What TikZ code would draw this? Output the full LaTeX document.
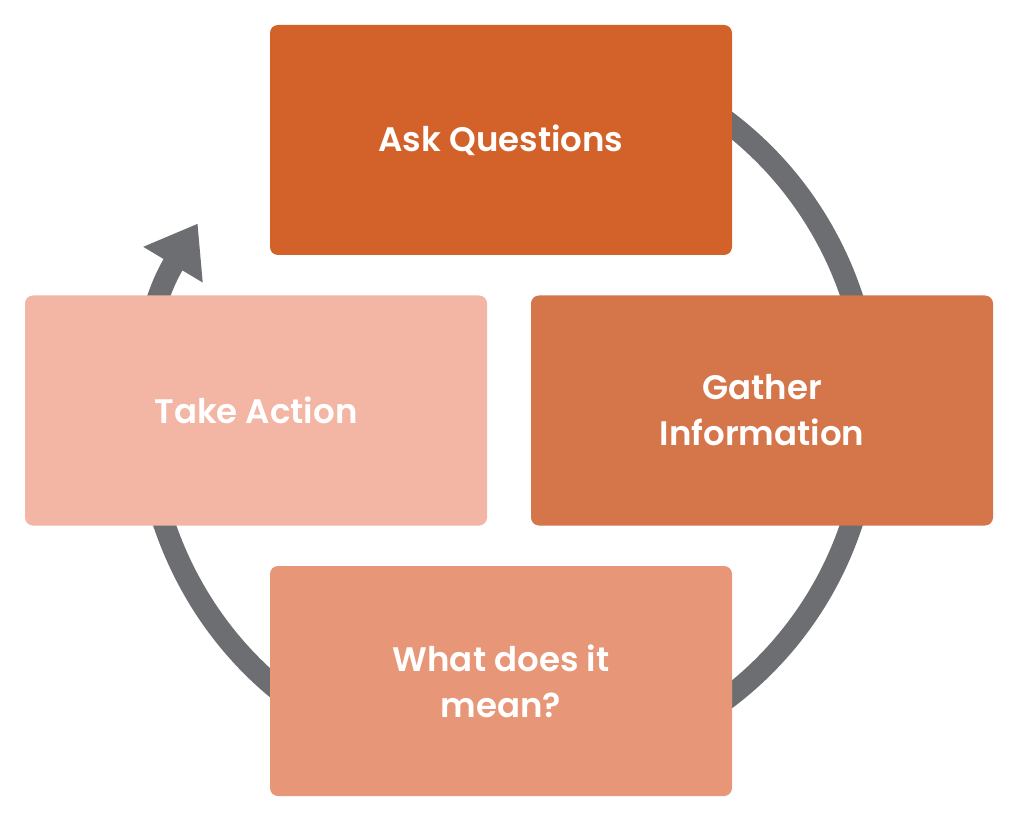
\documentclass[tikz,border=0pt]{standalone}
\usepackage{fontspec}
\setmainfont{Poppins}[BoldFont={Poppins SemiBold}]
\usetikzlibrary{arrows.meta}
\definecolor{c1}{HTML}{D2622A}
\definecolor{c2}{HTML}{D4754A}
\definecolor{c3}{HTML}{E79677}
\definecolor{c4}{HTML}{F3B5A4}
\definecolor{ring}{HTML}{6D6E71}
\tikzset{box/.style={rounded corners=8pt,minimum width=462pt,minimum height=230pt,text=white,font=\bfseries\fontsize{34}{46}\selectfont,align=center,inner sep=0pt}}
\begin{document}
\begin{tikzpicture}[x=1pt,y=1pt]
\useasboundingbox (0,0) rectangle (1024,815);
\coordinate (c) at (508,405);
\draw[ring,line width=22pt,-{Triangle[width=66pt,length=48pt]}] ([shift={(120:362)}]c) arc[start angle=120,end angle=-211,radius=362];
\node[box,fill=c1] (ask) at (501,675) {Ask Questions};
\node[box,fill=c2] (gather) at (762,404.5) {Gather\\Information};
\node[box,fill=c4] (take) at (256,404.5) {Take Action};
\node[box,fill=c3] (mean) at (501,134) {What does it\\mean?};
\end{tikzpicture}
\end{document}
